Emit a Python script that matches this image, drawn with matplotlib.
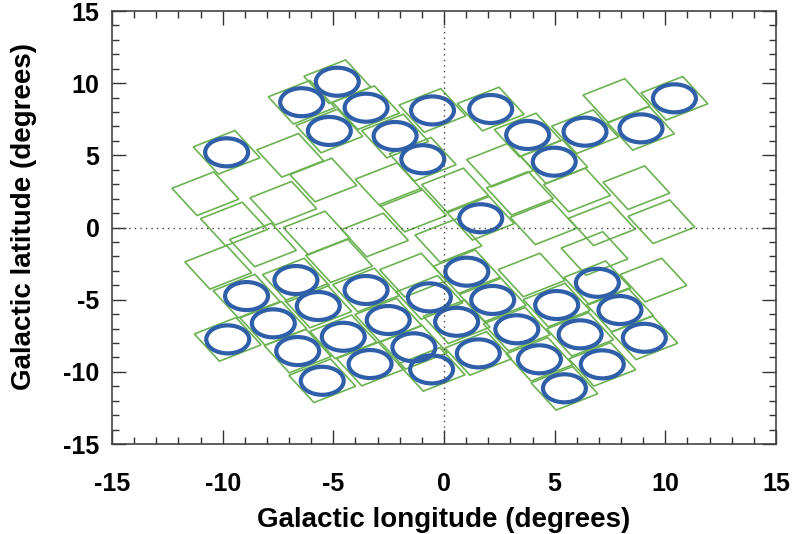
import matplotlib.pyplot as plt
from matplotlib.patches import Rectangle, Circle

# Field centres (galactic l, b) in degrees
ring_l = [-9.82, -6.43, -4.82, -3.52, -5.18, -2.21, -0.96, -0.52, 2.11, 3.78,
          6.37, 4.98, 8.90, 10.41, 1.66, 1.03, -8.92, -6.69, -3.52, -5.68,
          -7.71, -9.77, -2.52, -0.66, 2.20, 0.57, -4.55, -6.61, -1.36, -3.34,
          -5.50, -0.56, 1.55, 3.29, 5.09, 6.93, 7.95, 6.15, 9.05, 4.31,
          7.15, 5.44]
ring_b = [5.21, 8.68, 10.10, 8.30, 6.69, 6.34, 4.73, 8.11, 8.21, 6.41,
          6.64, 4.56, 6.87, 8.95, 0.64, -3.06, -4.75, -3.64, -4.33, -5.44,
          -6.64, -7.75, -6.41, -4.84, -5.02, -6.53, -7.57, -8.56, -8.30, -9.46,
          -10.62, -9.83, -8.72, -7.05, -5.37, -3.83, -5.72, -7.40, -7.64, -9.13,
          -9.48, -11.14]

# Tiles without a ring
tile_l = [-10.78, -6.95, -5.45, -7.26, -9.49, -2.50, 7.79, 2.53, 8.69, 9.82,
          3.43, 6.01, 7.13, 4.50, -10.2, -4.74, -1.4, 3.96, 9.46,
          -5.75, -1.40, -3.12, -8.18, 0.50, 6.80, 0.20]
tile_b = [2.34, 5.0, 3.29, 1.68, 0.24, 2.97, 8.80, 4.33, 2.76, 0.40,
          2.37, 2.6, 0.26, 0.33, -2.76, -2.30, -3.3, -3.29, -3.64,
          -0.38, 1.21, -0.52, -1.21, 2.60, -1.80, -0.90]

tile_side = 2.2
tile_angle = 31.0
ring_radius = 0.97

plt.rcParams['font.family'] = ['Liberation Sans', 'DejaVu Sans']
plt.rcParams['font.weight'] = 'bold'
plt.rcParams['axes.unicode_minus'] = False

fig = plt.figure(figsize=(7.93, 5.34), dpi=100)
ax = fig.add_axes([0.1412, 0.1685, 0.8374, 0.8109])

for l, b in zip(list(ring_l) + list(tile_l), list(ring_b) + list(tile_b)):
    ax.add_patch(Rectangle((l - tile_side / 2, b - tile_side / 2), tile_side, tile_side,
                           angle=tile_angle, rotation_point='center',
                           fill=False, ec='#6cb252', lw=1.2))
for l, b in zip(ring_l, ring_b):
    ax.add_patch(Circle((l, b), ring_radius, fill=False, ec='#2f5fa9', lw=3.0))

ax.axhline(0, color='#444444', lw=1.0, ls=(0, (1, 3)))
ax.axvline(0, color='#444444', lw=1.0, ls=(0, (1, 3)))

ax.set_xlim(-15, 15)
ax.set_ylim(-15, 15)
ax.set_xticks(range(-15, 16, 5))
ax.set_yticks(range(-15, 16, 5))
ax.set_xticks(range(-15, 16), minor=True)
ax.set_yticks(range(-15, 16), minor=True)
ax.tick_params(which='both', direction='in', top=True, right=True,
               color='#333333', width=1.0)
ax.tick_params(which='major', length=10)
ax.tick_params(which='minor', length=5)
ax.tick_params(axis='x', pad=20, labelsize=18)
ax.tick_params(axis='y', pad=9, labelsize=18)
for s in ax.spines.values():
    s.set_color('#444444')
    s.set_linewidth(1.2)

ax.set_xlabel('Galactic longitude (degrees)', fontsize=20, fontweight='bold', labelpad=8)
ax.set_ylabel('Galactic latitude (degrees)', fontsize=20, fontweight='bold')
ax.yaxis.set_label_coords(-0.113, 0.525)

fig.savefig('out.png', dpi=100)
